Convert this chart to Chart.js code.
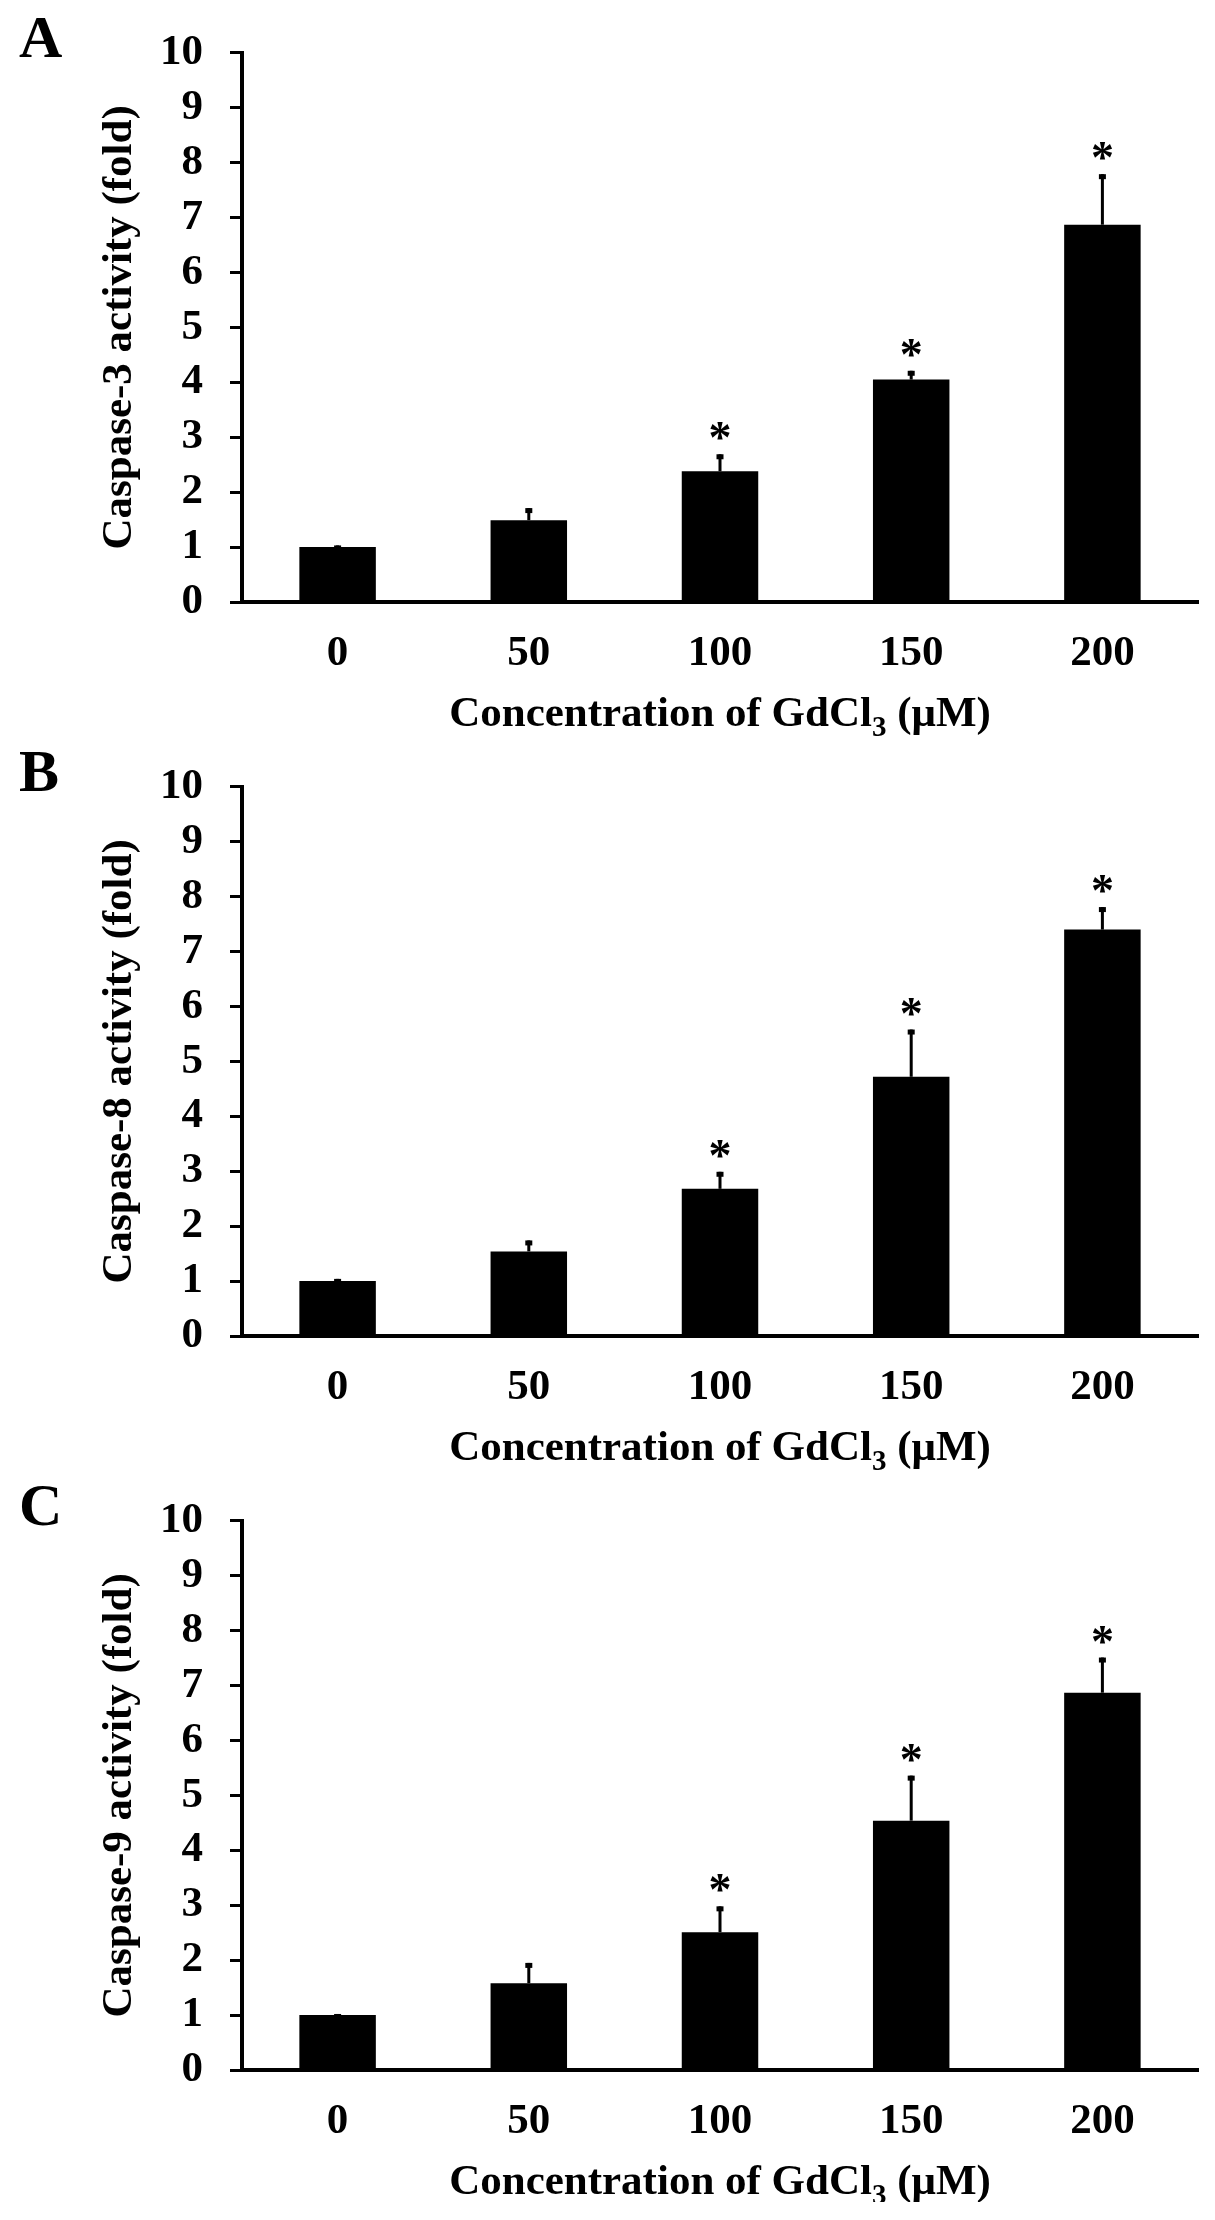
<!DOCTYPE html>
<html>
<head>
<meta charset="utf-8">
<script src="https://cdn.jsdelivr.net/npm/chart.js@4.4.1/dist/chart.umd.min.js"></script>
<style>
  body { margin: 0; background: #fff; }
  .panel { position: relative; width: 1215px; height: 752px; margin-bottom: -18px; }
  .panel:last-child { margin-bottom: 0; }
</style>
</head>
<body>
<div class="panel"><canvas id="chartA"></canvas></div>
<div class="panel"><canvas id="chartB"></canvas></div>
<div class="panel"><canvas id="chartC"></canvas></div>
<script>
// GdCl3 concentrations (µM)
const concentrations = ['0', '50', '100', '150', '200'];

// Caspase-3 (panel A)
const caspase3 = [1.0, 1.49, 2.38, 4.05, 6.87];
const caspase3Err = [0.03, 0.22, 0.31, 0.16, 0.92];

// Caspase-8 (panel B)
const caspase8 = [1.0, 1.54, 2.68, 4.72, 7.40];
const caspase8Err = [0.04, 0.20, 0.31, 0.86, 0.41];

// Caspase-9 (panel C)
const caspase9 = [1.0, 1.58, 2.51, 4.54, 6.87];
const caspase9Err = [0.02, 0.37, 0.47, 0.82, 0.64];

// significance marks (*)
const significant = [false, false, true, true, true];

const serif = '"Liberation Serif", "Times New Roman", serif';

// error bars, asterisks, panel letter and x title with subscript
const annotate = {
  id: 'annotate',
  afterDatasetsDraw(chart, args, opts) {
    const { ctx } = chart;
    const y = chart.scales.y;
    const vals = chart.data.datasets[0].data;
    const bars = chart.getDatasetMeta(0).data;
    ctx.save();
    ctx.fillStyle = '#000';
    bars.forEach((bar, i) => {
      const top = y.getPixelForValue(vals[i] + opts.err[i]);
      ctx.fillRect(bar.x - 1.5, top, 3, bar.y - top);
      ctx.fillRect(bar.x - 3.5, top, 7, 5);
      if (opts.sig[i]) {
        ctx.font = 'bold 46px ' + serif;
        ctx.textAlign = 'center';
        ctx.textBaseline = 'alphabetic';
        ctx.fillText('*', bar.x, top - 1);
      }
    });
    ctx.restore();
  },
  afterDraw(chart, args, opts) {
    const { ctx, chartArea } = chart;
    ctx.save();
    ctx.fillStyle = '#000';
    ctx.textBaseline = 'alphabetic';
    ctx.textAlign = 'left';
    ctx.font = 'bold 60px ' + serif;
    ctx.fillText(opts.letter, 19, 57);

    // Concentration of GdCl3 (µM)
    const big = 'bold 43px ' + serif, small = 'bold 29px ' + serif;
    const p1 = 'Concentration of GdCl', p2 = '3', p3 = ' (\u03bcM)';
    ctx.font = big;
    const w1 = ctx.measureText(p1).width, w3 = ctx.measureText(p3).width;
    ctx.font = small;
    const w2 = ctx.measureText(p2).width;
    const cx = (chartArea.left + chartArea.right) / 2;
    let x = cx - (w1 + w2 + w3) / 2;
    const base = chartArea.bottom + 124;
    ctx.font = big;
    ctx.fillText(p1, x, base);
    x += w1;
    ctx.font = small;
    ctx.fillText(p2, x, base + 10);
    x += w2;
    ctx.font = big;
    ctx.fillText(p3, x, base);
    ctx.restore();
  }
};

function makePanel(id, letter, yTitle, values, errors) {
  new Chart(document.getElementById(id), {
    type: 'bar',
    data: {
      labels: concentrations,
      datasets: [{
        data: values,
        backgroundColor: '#000',
        borderWidth: 0,
        barPercentage: 0.4,
        categoryPercentage: 1.0
      }]
    },
    options: {
      responsive: true,
      maintainAspectRatio: false,
      animation: false,
      layout: { padding: { top: 43, right: 17, bottom: 0, left: 0 } },
      scales: {
        x: {
          offset: true,
          grid: { display: false, drawTicks: false },
          border: { display: true, color: '#000', width: 4 },
          ticks: {
            color: '#000',
            padding: 26,
            font: { family: serif, size: 43, weight: 'bold' }
          },
          afterFit(scale) { scale.height = 150; }
        },
        y: {
          min: 0,
          max: 10,
          ticks: {
            stepSize: 1,
            color: '#000',
            padding: 27,
            font: { family: serif, size: 43, weight: 'bold' }
          },
          grid: {
            drawOnChartArea: false,
            drawTicks: true,
            tickLength: 12,
            tickWidth: 3,
            tickColor: '#000'
          },
          border: { display: true, color: '#000', width: 4 },
          title: {
            display: true,
            text: yTitle,
            color: '#000',
            padding: { top: 94, bottom: 0 },
            font: { family: serif, size: 43, weight: 'bold' }
          },
          afterFit(scale) { scale.width = 242; }
        }
      },
      plugins: {
        legend: { display: false },
        tooltip: { enabled: false },
        annotate: { letter: letter, err: errors, sig: significant }
      }
    },
    plugins: [annotate]
  });
}

makePanel('chartA', 'A', 'Caspase-3 activity (fold)', caspase3, caspase3Err);
makePanel('chartB', 'B', 'Caspase-8 activity (fold)', caspase8, caspase8Err);
makePanel('chartC', 'C', 'Caspase-9 activity (fold)', caspase9, caspase9Err);
</script>
</body>
</html>
